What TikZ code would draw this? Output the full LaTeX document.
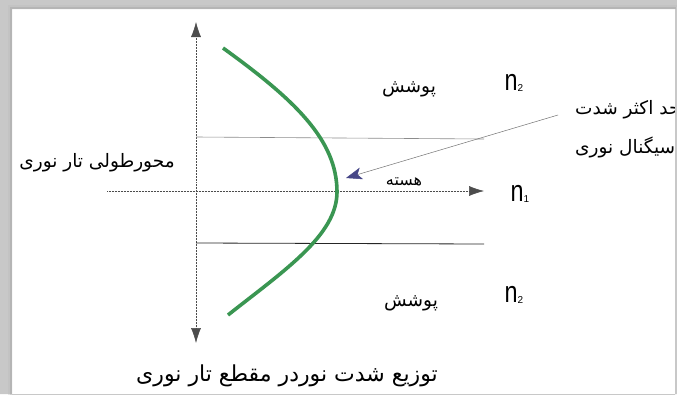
\documentclass[tikz,border=0pt]{standalone}
\usepackage{fontspec}
\setmainfont{Liberation Sans}
\newfontfamily\arabicfont[Script=Arabic]{DejaVu Sans}
\TeXXeTstate=1
\usetikzlibrary{arrows.meta}
\definecolor{curvegreen}{RGB}{58,150,82}
\definecolor{pointerblue}{RGB}{70,70,135}
\definecolor{framegray}{RGB}{200,200,200}
\definecolor{shadowgray}{RGB}{160,160,160}
\newcommand\nlabel[1]{\scalebox{0.78}[1]{\fontsize{30}{30}\selectfont n}\raisebox{-1pt}{\fontsize{10}{10}\selectfont #1}}
\begin{document}
\begin{tikzpicture}[x=1pt,y=-1pt,
  fa/.style={font=\arabicfont\fontsize{18.5}{18.5}\selectfont, inner sep=0pt},
  falarge/.style={font=\arabicfont\fontsize{22}{22}\selectfont, inner sep=0pt},
  nlab/.style={inner sep=0pt},
  axisline/.style={draw=black!70, line width=0.5pt, densely dotted},
  bigtip/.style={-{Latex[length=15pt,width=10pt]}},
  fiberline/.style={line width=0.6pt},
  curve/.style={draw=curvegreen, line width=3.6pt},
  pointer/.style={draw=black!55, line width=0.5pt, -{Stealth[length=16pt,width=12pt,inset=4pt,color=pointerblue]}}
]
\useasboundingbox (0,0) rectangle (677,394);
\fill[white] (0,0) rectangle (677,394);

% axes
\coordinate (vbot) at (196,343);
\coordinate (vtop) at (196,22);
\coordinate (vmid) at (196,182);
\draw[axisline, bigtip] (vmid) -- (vtop);
\draw[axisline, bigtip] (vmid) -- (vbot);
\coordinate (hleft) at (107,191);
\coordinate (htip) at (484,191);
\draw[axisline, bigtip] (hleft) -- (htip);

% core boundaries
\coordinate (ua) at (196,137);
\coordinate (ub) at (484,139);
\coordinate (la) at (196,243);
\coordinate (lb) at (484,244);
\draw[fiberline, draw=black!45] (ua) -- (ub);
\draw[fiberline, draw=black!85, line width=0.8pt] (la) -- (lb);

% intensity curve
\coordinate (ctop) at (223,48);
\coordinate (cvert) at (337,192);
\coordinate (cbot) at (228,315);
\draw[curve] (ctop) .. controls (295,100) and (337,140) .. (cvert)
                    .. controls (337,235) and (285,270) .. (cbot);

% labels
\node[fa] (axislab) at (97,163) {\beginR محورطولی تار نوری\endR};
\node[fa] (clad1) at (409,89) {\beginR پوشش\endR};
\node[fa] (clad2) at (411,303) {\beginR پوشش\endR};
\node[fa, font=\arabicfont\fontsize{16}{16}\selectfont] (core) at (404,182) {\beginR هسته\endR};
\node[nlab] (n2a) at (514,83) {\nlabel{2}};
\node[nlab] (n1) at (520,194) {\nlabel{1}};
\node[nlab] (n2b) at (514,295) {\nlabel{2}};
\node[fa, anchor=west] (maxa) at (575,110) {\beginR حد اکثر شدت\endR};
\node[fa, anchor=west] (maxb) at (575,147) {\beginR سیگنال نوری\endR};
\node[falarge] (title) at (287,376) {\beginR توزیع شدت نوردر مقطع تار نوری\endR};

% pointer
\coordinate (pstart) at (558,115);
\coordinate (ptip) at (346,178);
\draw[pointer] (pstart) -- (ptip);

% frame
\fill[framegray, even odd rule] (0,0) rectangle (677,394) (12,9) rectangle (675,400);
\draw[shadowgray, line width=2pt, opacity=0.45] (11,400) -- (11,8) -- (676,8);
\draw[shadowgray!70, line width=2pt, opacity=0.35] (9,400) -- (9,6) -- (677,6);
\end{tikzpicture}
\end{document}
